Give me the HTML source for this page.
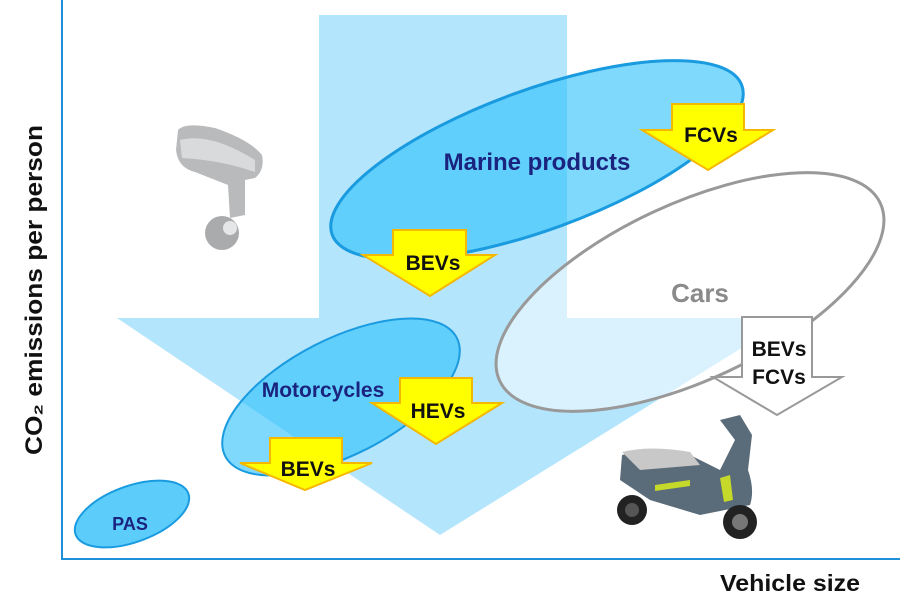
<!DOCTYPE html>
<html><head><meta charset="utf-8"><style>
html,body{margin:0;padding:0;background:#fff}
svg{display:block;font-family:"Liberation Sans",Arial,sans-serif;font-weight:bold}
</style></head><body>
<svg width="900" height="606" viewBox="0 0 900 606" xmlns="http://www.w3.org/2000/svg">
<!-- axes -->
<line x1="62" y1="0" x2="62" y2="560" stroke="#1e90d8" stroke-width="2"/>
<line x1="61" y1="559" x2="900" y2="559" stroke="#1e90d8" stroke-width="2"/>
<text transform="translate(42,290) rotate(-90)" text-anchor="middle" font-size="24" textLength="330" lengthAdjust="spacingAndGlyphs" fill="#111">CO₂ emissions per person</text>
<text x="790" y="591" text-anchor="middle" font-size="23" textLength="140" lengthAdjust="spacingAndGlyphs" fill="#111">Vehicle size</text>

<!-- big arrow -->
<polygon points="319,15 567,15 567,318 790,318 440,535 117,318 319,318" fill="#b3e5fc"/>

<!-- marine ellipse -->
<ellipse cx="537" cy="160" rx="218" ry="70" transform="rotate(-20 537 160)" fill="#29c0fa" fill-opacity="0.6" stroke="#1a9be0" stroke-width="3"/>
<!-- motorcycles -->
<ellipse cx="341" cy="397" rx="130" ry="58" transform="rotate(-27 341 397)" fill="#29c0fa" fill-opacity="0.6" stroke="#1a9be0" stroke-width="2"/>
<!-- PAS -->
<ellipse cx="132" cy="514" rx="60" ry="28" transform="rotate(-20 132 514)" fill="#5ccdfa" stroke="#1a9be0" stroke-width="2"/>
<!-- cars -->
<ellipse cx="690" cy="292" rx="210" ry="88" transform="rotate(-25 690 292)" fill="#fff" fill-opacity="0.5" stroke="#999" stroke-width="3"/>

<text x="537" y="170" text-anchor="middle" font-size="24" fill="#1a237e">Marine products</text>
<text x="323" y="397" text-anchor="middle" font-size="21" fill="#1a237e">Motorcycles</text>
<text x="130" y="530" text-anchor="middle" font-size="18" fill="#1a237e">PAS</text>
<text x="700" y="302" text-anchor="middle" font-size="26" fill="#8a8a8a">Cars</text>

<!-- yellow arrows -->
<g fill="#ffff00" stroke="#f5b800" stroke-width="2" stroke-linejoin="miter">
<polygon points="672,104 744,104 744,130 773,130 708,170 642,130 672,130"/>
<polygon points="393,230 466,230 466,255 495,255 430,296 363,255 393,255"/>
<polygon points="400,378 472,378 472,403 502,403 436,444 372,403 400,403"/>
<polygon points="270,438 342,438 342,463 372,463 305,490 240,463 270,463"/>
</g>
<g font-size="21" fill="#111" text-anchor="middle">
<text x="711" y="142">FCVs</text>
<text x="433" y="270">BEVs</text>
<text x="438" y="418">HEVs</text>
<text x="308" y="476">BEVs</text>
</g>
<!-- white arrow -->
<polygon points="742,317 812,317 812,377 842,377 777,415 713,377 742,377" fill="#fff" stroke="#999" stroke-width="2"/>
<text x="779" y="356" text-anchor="middle" font-size="21" fill="#111">BEVs</text>
<text x="779" y="384" text-anchor="middle" font-size="21" fill="#111">FCVs</text>

<!-- marine motor image approximation -->
<g>
<path d="M178,130 Q185,122 215,128 Q250,140 262,155 Q265,170 255,178 L245,180 L245,215 L230,218 L228,185 L195,172 Q178,168 176,150 Z" fill="#b8babc"/>
<path d="M180,140 Q210,132 255,160 L255,172 Q220,160 182,158 Z" fill="#d8dadc"/>
<circle cx="222" cy="233" r="17" fill="#a9abad"/>
<circle cx="230" cy="228" r="7" fill="#e5e6e7"/>
</g>

<!-- scooter approximation -->
<g>
<path d="M622,455 Q650,448 690,455 L720,470 L735,440 L720,420 L740,415 L752,435 L748,470 Q755,490 750,505 L700,515 L650,500 L620,480 Z" fill="#5a6b7a"/>
<path d="M622,452 Q650,445 690,452 L700,465 L640,470 Z" fill="#c8c8c8"/>
<circle cx="632" cy="510" r="15" fill="#222"/>
<circle cx="740" cy="522" r="17" fill="#222"/>
<circle cx="740" cy="522" r="8" fill="#777"/>
<circle cx="632" cy="510" r="7" fill="#555"/>
<path d="M720,478 L730,475 L733,500 L724,502 Z" fill="#c5d92a"/>
<path d="M655,485 L690,480 L690,486 L655,491 Z" fill="#c5d92a"/>
</g>
</svg>
</body></html>
